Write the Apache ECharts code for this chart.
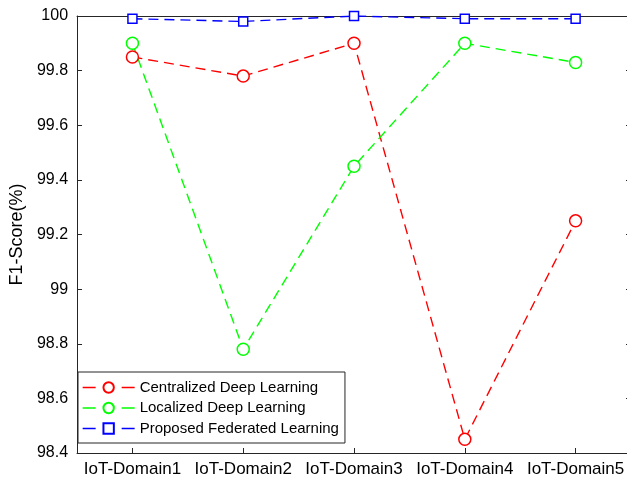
<!DOCTYPE html>
<html>
<head>
<meta charset="utf-8">
<script src="https://cdn.jsdelivr.net/npm/echarts@6/dist/echarts.min.js"></script>
<style>
  html, body { margin: 0; padding: 0; background: #fff; overflow: hidden; width: 627px; height: 479px; }
  /* the plot box runs a few pixels past the right edge of the page */
  #chart { width: 633px; height: 479px; }
</style>
</head>
<body>
<div id="chart"></div>
<script>
// F1-score per IoT domain for three training approaches
const domains = ['IoT-Domain1', 'IoT-Domain2', 'IoT-Domain3', 'IoT-Domain4', 'IoT-Domain5'];
const centralized = [99.85, 99.78, 99.90, 98.45, 99.25];
const localized = [99.90, 98.78, 99.45, 99.90, 99.83];
const federated = [99.99, 99.98, 100.00, 99.99, 99.99];
const yTicks = [98.4, 98.6, 98.8, 99, 99.2, 99.4, 99.6, 99.8, 100];

const font = 'Liberation Sans, Arial, Helvetica, sans-serif';
const axisColor = '#262626';

function lineSeries(name, data, color, symbol, size) {
  return {
    name: name,
    type: 'line',
    data: data,
    symbol: symbol,
    symbolSize: size,
    showSymbol: true,
    color: color,
    lineStyle: { color: color, width: 1.4, type: [10, 6] },
    itemStyle: { color: '#fff', borderColor: color, borderWidth: 1.5 },
    emphasis: { disabled: true },
    animation: false,
    z: 3
  };
}

const chart = echarts.init(document.getElementById('chart'), null, { renderer: 'canvas' });
chart.setOption({
  backgroundColor: '#fff',
  animation: false,
  grid: { left: 77, top: 16, right: 2, bottom: 26, containLabel: false },
  legend: {
    orient: 'vertical',
    left: 78,
    top: 372,
    backgroundColor: '#fff',
    borderColor: axisColor,
    borderWidth: 1,
    borderRadius: 0,
    padding: [8, 6, 7, 4],
    itemGap: 5.5,
    itemWidth: 52,
    itemHeight: 13,
    lineStyle: { type: [13, 26], width: 1.3 },
    textStyle: { fontFamily: font, fontSize: 15, color: '#000', padding: [0, 0, 0, 0] },
    data: ['Centralized Deep Learning', 'Localized Deep Learning', 'Proposed Federated Learning']
  },
  xAxis: [{
    type: 'category',
    data: domains,
    boundaryGap: true,
    axisLine: { show: true, lineStyle: { color: axisColor, width: 1 } },
    axisTick: { show: true, inside: true, alignWithLabel: true, length: 5, lineStyle: { color: axisColor } },
    axisLabel: { interval: 0, hideOverlap: false, fontFamily: font, fontSize: 17, color: '#000', margin: 8 },
    splitLine: { show: false }
  }, {
    type: 'category',
    data: domains,
    position: 'top',
    boundaryGap: true,
    axisLine: { show: true, lineStyle: { color: axisColor, width: 1 } },
    axisTick: { show: true, inside: true, alignWithLabel: true, length: 5, lineStyle: { color: axisColor } },
    axisLabel: { show: false },
    splitLine: { show: false }
  }],
  yAxis: [{
    type: 'value',
    min: yTicks[0],
    max: yTicks[yTicks.length - 1],
    interval: 0.2,
    name: 'F1-Score(%)',
    nameLocation: 'middle',
    nameGap: 43,
    nameTextStyle: { fontFamily: font, fontSize: 18, color: '#000' },
    axisLine: { show: true, lineStyle: { color: axisColor, width: 1 } },
    axisTick: { show: true, inside: true, length: 5, lineStyle: { color: axisColor } },
    axisLabel: {
      fontFamily: font, fontSize: 16, color: '#000', margin: 9,
      formatter: v => String(parseFloat(v.toFixed(1)))
    },
    splitLine: { show: false }
  }, {
    type: 'value',
    position: 'right',
    min: yTicks[0],
    max: yTicks[yTicks.length - 1],
    interval: 0.2,
    axisLine: { show: true, lineStyle: { color: axisColor, width: 1 } },
    axisTick: { show: true, inside: true, length: 5, lineStyle: { color: axisColor } },
    axisLabel: { show: false },
    splitLine: { show: false }
  }],
  series: [
    lineSeries('Centralized Deep Learning', centralized, '#ff0000', 'circle', 12),
    lineSeries('Localized Deep Learning', localized, '#00ff00', 'circle', 12),
    lineSeries('Proposed Federated Learning', federated, '#0000ff', 'rect', 9)
  ]
});
</script>
</body>
</html>
